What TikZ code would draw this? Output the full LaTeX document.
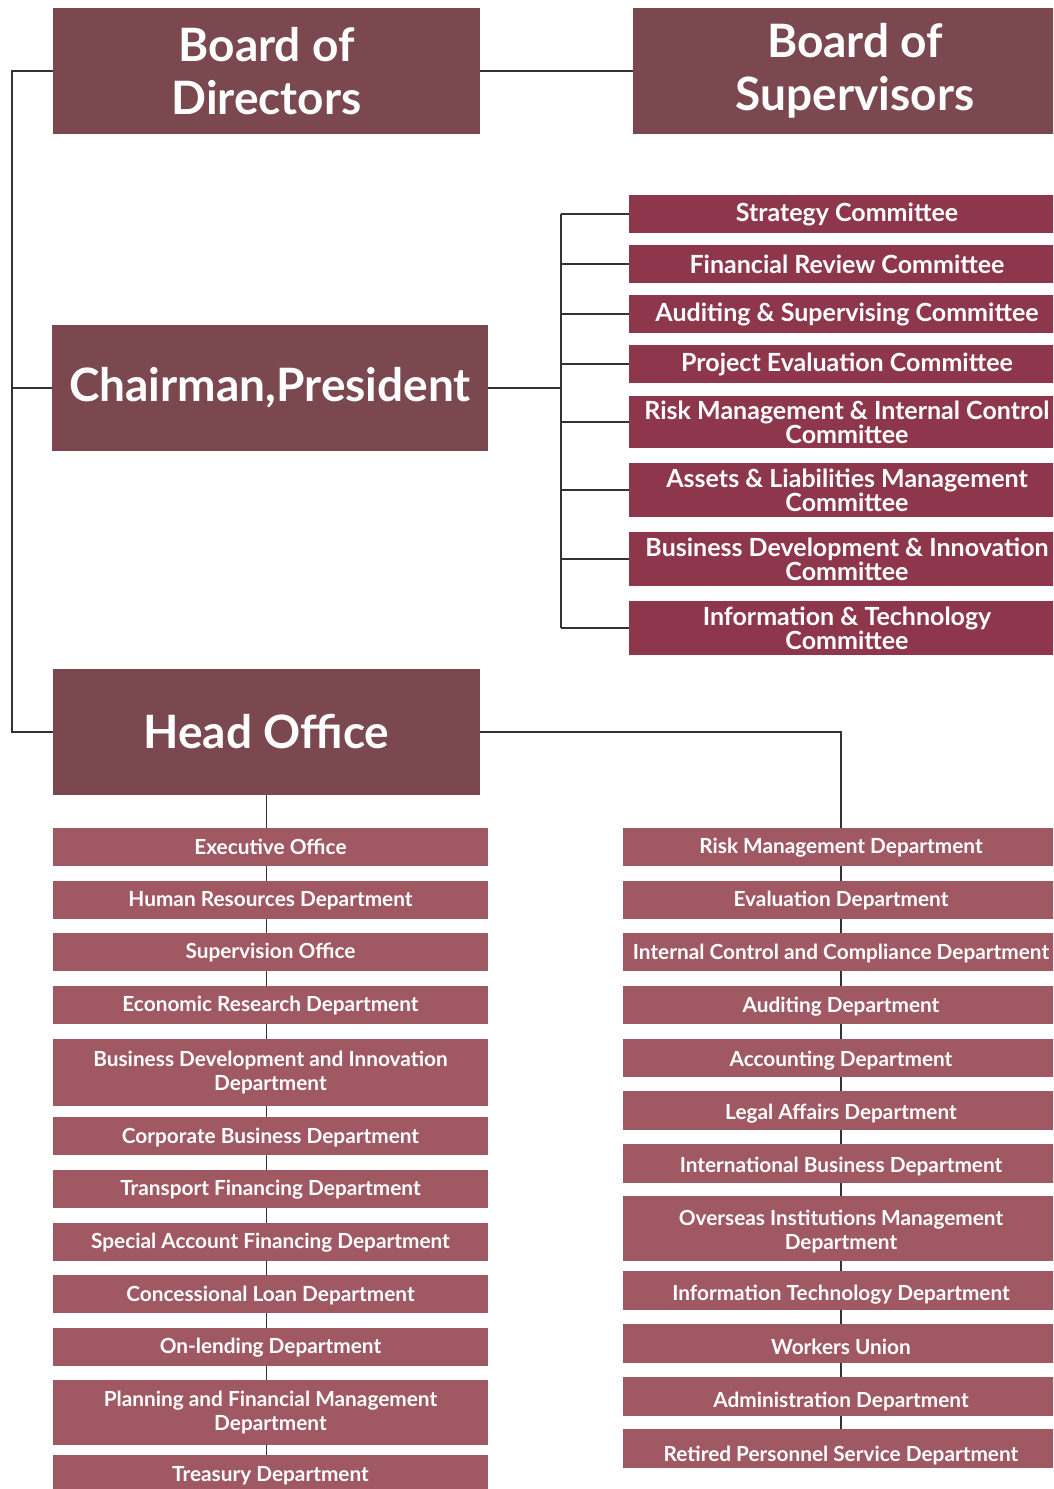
\documentclass[tikz,border=0pt]{standalone}
\usepackage{fontspec}
\setmainfont{Lato}
\definecolor{hdr}{HTML}{7B4850}
\definecolor{cmt}{HTML}{8E364C}
\definecolor{dpt}{HTML}{A05862}
\definecolor{ln}{HTML}{333333}
\newcommand\orgbox[7]{%
  \node[#6, minimum width={#4-#2}, minimum height={#5-#3}] (#1) at ({(#2+#4)/2},{(#3+#5)/2}) {#7};}
\newcommand\dnshift[2]{\raisebox{-#1}[\height][\depth]{#2}}
\tikzset{
  base/.style={rectangle, inner sep=0pt, text=white, align=center, font=\bfseries},
  hdrbox/.style={base, fill=hdr, font=\bfseries\fontsize{46}{53}\selectfont},
  bighdr/.style={base, fill=hdr, font=\bfseries\fontsize{46}{53}\selectfont},
  cmtbox/.style={base, fill=cmt, font=\bfseries\fontsize{25}{24}\selectfont},
  dptbox/.style={base, fill=dpt, font=\bfseries\fontsize{20.8}{24}\selectfont},
  conn/.style={draw=ln, line width=1.5pt}
}
\begin{document}
\begin{tikzpicture}[x=1pt,y=-1pt]
\useasboundingbox (0,0) rectangle (1053,1489);
\begin{scope}
\clip (0,0) rectangle (1053,1489);
% coordinates for trunks
\coordinate (L) at (12,0);
\coordinate (cx) at (561,0);
\coordinate (rx) at (841,0);
% header boxes
\orgbox{bod}{53}{8}{480}{134}{hdrbox}{Board of\\Directors}
\orgbox{bos}{633}{8}{1077}{134}{hdrbox}{Board of\\Supervisors}
\orgbox{chair}{52}{325}{488}{451}{bighdr}{Chairman,President}
\orgbox{ho}{53}{669}{480}{795}{bighdr}{Head Office}
% committees
\orgbox{c1}{629}{195}{1065}{233}{cmtbox}{Strategy Committee}
\orgbox{c2}{629}{245}{1065}{283}{cmtbox}{Financial Review Committee}
\orgbox{c3}{629}{295}{1065}{333}{cmtbox}{Auditing \& Supervising Committee}
\orgbox{c4}{629}{345}{1065}{383}{cmtbox}{Project Evaluation Committee}
\orgbox{c5}{629}{396}{1065}{448}{cmtbox}{Risk Management \& Internal Control\\Committee}
\orgbox{c6}{629}{463}{1065}{517}{cmtbox}{Assets \& Liabilities Management\\Committee}
\orgbox{c7}{629}{532}{1065}{586}{cmtbox}{Business Development \& Innovation\\Committee}
\orgbox{c8}{629}{601}{1065}{655}{cmtbox}{Information \& Technology\\Committee}
% left departments
\orgbox{l1}{53}{828}{488}{866}{dptbox}{Executive Office}
\orgbox{l2}{53}{881}{488}{919}{dptbox}{\dnshift{1pt}{Human Resources Department}}
\orgbox{l3}{53}{933}{488}{971}{dptbox}{Supervision Office}
\orgbox{l4}{53}{986}{488}{1024}{dptbox}{\dnshift{1pt}{Economic Research Department}}
\orgbox{l5}{53}{1039}{488}{1106}{dptbox}{Business Development and Innovation\\Department}
\orgbox{l6}{53}{1117}{488}{1155}{dptbox}{\dnshift{2pt}{Corporate Business Department}}
\orgbox{l7}{53}{1170}{488}{1208}{dptbox}{\dnshift{1pt}{Transport Financing Department}}
\orgbox{l8}{53}{1223}{488}{1261}{dptbox}{\dnshift{1pt}{Special Account Financing Department}}
\orgbox{l9}{53}{1275}{488}{1313}{dptbox}{\dnshift{1pt}{Concessional Loan Department}}
\orgbox{l10}{53}{1328}{488}{1366}{dptbox}{\dnshift{1pt}{On-lending Department}}
\orgbox{l11}{53}{1380}{488}{1445}{dptbox}{Planning and Financial Management\\Department}
\orgbox{l12}{53}{1455}{488}{1493}{dptbox}{\dnshift{2pt}{Treasury Department}}
% right departments
\orgbox{r1}{623}{828}{1059}{866}{dptbox}{\dnshift{1pt}{Risk Management Department}}
\orgbox{r2}{623}{881}{1059}{919}{dptbox}{Evaluation Department}
\orgbox{r3}{623}{933}{1059}{971}{dptbox}{\dnshift{2pt}{Internal Control and Compliance Department}}
\orgbox{r4}{623}{986}{1059}{1024}{dptbox}{\dnshift{2pt}{Auditing Department}}
\orgbox{r5}{623}{1039}{1059}{1077}{dptbox}{\dnshift{3pt}{Accounting Department}}
\orgbox{r6}{623}{1091}{1059}{1130}{dptbox}{\dnshift{3pt}{Legal Affairs Department}}
\orgbox{r7}{623}{1144}{1059}{1183}{dptbox}{\dnshift{3pt}{International Business Department}}
\orgbox{r8}{623}{1196}{1059}{1261}{dptbox}{\dnshift{4pt}{\begin{tabular}{@{}c@{}}Overseas Institutions Management\\Department\end{tabular}}}
\orgbox{r9}{623}{1271}{1059}{1310}{dptbox}{\dnshift{4pt}{Information Technology Department}}
\orgbox{r10}{623}{1324}{1059}{1363}{dptbox}{\dnshift{3pt}{Workers Union}}
\orgbox{r11}{623}{1377}{1059}{1416}{dptbox}{\dnshift{5pt}{Administration Department}}
\orgbox{r12}{623}{1429}{1059}{1468}{dptbox}{\dnshift{7pt}{Retired Personnel Service Department}}
% connectors
\draw[conn] (bod.east) -- (bos.west);
\draw[conn] (bod.west) -- (bod.west -| L) |- (ho.west);
\draw[conn] (chair.west) -- (chair.west -| L);
\draw[conn] (chair.east) -- (chair.east -| cx);
\draw[conn] (c1.west -| cx) -- (c8.west -| cx);
\foreach \i in {1,...,8}{\draw[conn] (c\i.west -| cx) -- (c\i.west);}
\draw[conn] (ho.east) -| (rx |- r1.north);
\draw[conn] (ho.south) -- (ho.south |- l1.north);
\foreach \i [evaluate=\i as \j using int(\i+1)] in {1,...,11}{\draw[conn] (ho.south |- l\i.south) -- (ho.south |- l\j.north);}
\foreach \i [evaluate=\i as \j using int(\i+1)] in {1,...,11}{\draw[conn] (rx |- r\i.south) -- (rx |- r\j.north);}
\end{scope}
\end{tikzpicture}
\end{document}
